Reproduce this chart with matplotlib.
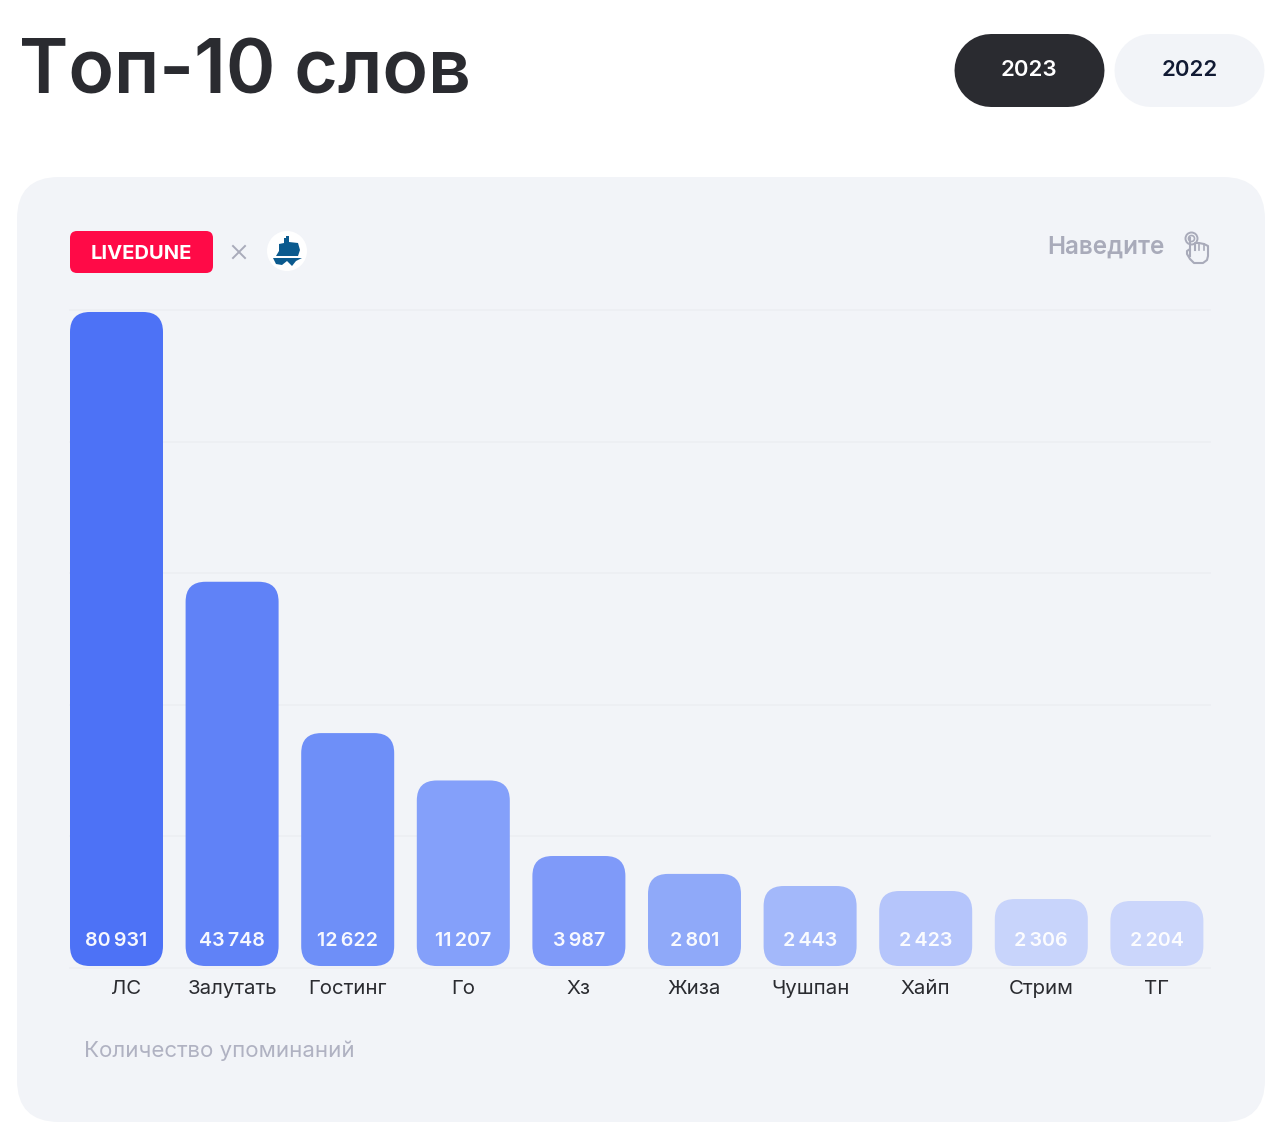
import matplotlib
matplotlib.use("Agg")
import matplotlib.pyplot as plt
from matplotlib.patches import FancyBboxPatch, Circle, Polygon
from matplotlib.transforms import ScaledTranslation

plt.rcParams["font.family"] = ["Inter", "DejaVu Sans"]

# Data
words = ["ЛС", "Залутать", "Гостинг", "Го", "Хз", "Жиза", "Чушпан", "Хайп", "Стрим", "ТГ"]
mentions = [80931, 43748, 12622, 11207, 3987, 2801, 2443, 2423, 2306, 2204]
# bars are not proportional to the counts, so heights are in grid steps as drawn
bar_heights = [4.97, 2.92, 1.77, 1.41, 0.836, 0.70, 0.608, 0.57, 0.509, 0.494]
bar_colors = ["#4D72F6", "#6082F7", "#6E8FF8", "#84A0FA", "#7F9AF9",
              "#8FA9F9", "#A3B8FA", "#B5C5FB", "#C8D4FB", "#CBD6FB"]
years = ["2023", "2022"]

W, H = 1280, 1132
DARK = "#2A2B30"
CARD = "#F2F4F8"
MUTED = "#A9ABBA"
STEP_X = 115.6   # px per category
STEP_Y = 131.6   # px per grid step

fig = plt.figure(figsize=(W / 100, H / 100), dpi=100, facecolor="white")

# page layer in pixel coordinates: title, pills, card, logos
bg = fig.add_axes([0, 0, 1, 1])
bg.set_xlim(0, W)
bg.set_ylim(H, 0)
bg.axis("off")


def rounded(ax, x0, y0, x1, y1, r, color):
    ax.add_patch(FancyBboxPatch((x0, y0), x1 - x0, y1 - y0,
                                boxstyle=f"round,pad=0,rounding_size={r}",
                                fc=color, ec="none"))


def pill(ax, x0, x1, y, height, color):
    # a thick round-capped line gives true half circles at the ends
    ax.plot([x0 + height / 2, x1 - height / 2], [y, y], color=color,
            lw=height * 0.72, solid_capstyle="round", snap=False)


bg.text(19, 93, "Топ-10 слов", fontsize=54, color=DARK, weight="semibold",
        ha="left", va="baseline")

pill(bg, 954.5, 1104.5, 70.5, 73, DARK)
pill(bg, 1114.5, 1264.5, 70.5, 73, CARD)
bg.text(1029, 68.5, years[0], fontsize=16, color="white", weight="semibold", ha="center", va="center_baseline")
bg.text(1190, 68.5, years[1], fontsize=16, color="#111A33", weight="semibold", ha="center", va="center_baseline")

rounded(bg, 17, 177, 1265, 1122, 42, CARD)

rounded(bg, 70, 231, 213, 273, 7, "#FF0A47")
bg.text(141.5, 252, "LIVEDUNE", fontsize=14.5, color="white", weight="bold", ha="center", va="center_baseline")
bg.plot([233, 245], [246, 258], color=MUTED, lw=1.4)
bg.plot([233, 245], [258, 246], color=MUTED, lw=1.4)

# ship logo
bg.add_patch(Circle((287, 251), 20, fc="white", ec="none"))
bg.add_patch(Polygon([(279, 244), (284, 243), (284, 238), (286, 238), (286, 236), (289, 236),
                      (289, 242), (298, 243), (300, 250), (298, 256), (276, 256), (279, 251)],
                     fc="#0B5A8E", ec="none"))
bg.add_patch(Polygon([(273, 258), (302, 258), (296, 261), (292, 266), (287, 261),
                      (282, 265), (276, 264)], fc="#0B5A8E", ec="none"))

bg.text(1165, 245, "Наведите", fontsize=17.5, color=MUTED, weight="semibold", ha="right", va="center_baseline")

# hand icon
hand = "#A9ABBA"
bg.plot([1190, 1190, 1187, 1187, 1190, 1194, 1203, 1207, 1208, 1208, 1204, 1199, 1195, 1195],
        [256, 249, 251, 254, 259, 263, 263, 260, 256, 246, 244, 243, 243, 250],
        color=hand, lw=1.5, solid_joinstyle="round")
bg.plot([1190, 1190], [249, 238], color=hand, lw=1.5)
bg.add_patch(Circle((1191.5, 238.5), 6, fc="none", ec=hand, lw=1.4))
bg.add_patch(Circle((1191.5, 238.5), 3, fc="none", ec=hand, lw=1.2))
bg.plot([1199, 1199], [243, 250], color=hand, lw=1.2)
bg.plot([1204, 1204], [244, 250], color=hand, lw=1.2)

bg.text(84, 1049, "Количество упоминаний", fontsize=16, color="#B0B2C2",
        ha="left", va="center_baseline")

# chart layer, y = 0 sits on the baseline grid line at pixel 968
left, right = 70, 1210
top = 968 - 5 * STEP_Y
ax = fig.add_axes([left / W, 1 - 968 / H, (right - left) / W, (968 - top) / H])
ax.patch.set_alpha(0)
ax.set_xlim((left - 116.5) / STEP_X, (right - 116.5) / STEP_X)
ax.set_ylim(0, 5)
for side in ax.spines.values():
    side.set_visible(False)

ax.set_yticks(range(6))
ax.tick_params(axis="y", length=0, labelleft=False)
ax.grid(axis="y", color="#ECEEF3", lw=1.2, zorder=0)
ax.set_axisbelow(True)
for line in ax.get_ygridlines():
    line.set_clip_on(False)

positions = list(range(len(words)))
BAR_WIDTH = 93 / STEP_X
BASE = 0.015  # bars float just above the baseline
bars = ax.bar(positions, bar_heights, width=BAR_WIDTH, bottom=BASE, color=bar_colors, zorder=2)

# swap the square bars for rounded ones of the same geometry
for rect, color in zip(bars, bar_colors):
    rect.set_visible(False)
    ax.add_patch(FancyBboxPatch((rect.get_x(), rect.get_y()), rect.get_width(), rect.get_height(),
                                boxstyle=f"round,pad=0,rounding_size={20 / STEP_X}",
                                mutation_aspect=STEP_X / STEP_Y,
                                fc=color, ec="none", zorder=3))

for i, count in enumerate(mentions):
    label = f"{count:,}".replace(",", "\u2009")
    ax.text(i, 29 / STEP_Y, label, fontsize=14.2, color="white", weight="semibold",
            ha="center", va="center_baseline", alpha=0.95, zorder=4)

ax.set_xticks(positions)
ax.set_xticklabels(words, fontsize=14.7, color=DARK)
ax.tick_params(axis="x", length=0, pad=8.5)
# the first label sits off-centre in the original
first = ax.get_xticklabels()[0]
first.set_transform(first.get_transform() + ScaledTranslation(9.5 / 100, 0, fig.dpi_scale_trans))

fig.savefig("out.png", dpi=100)
plt.close(fig)
